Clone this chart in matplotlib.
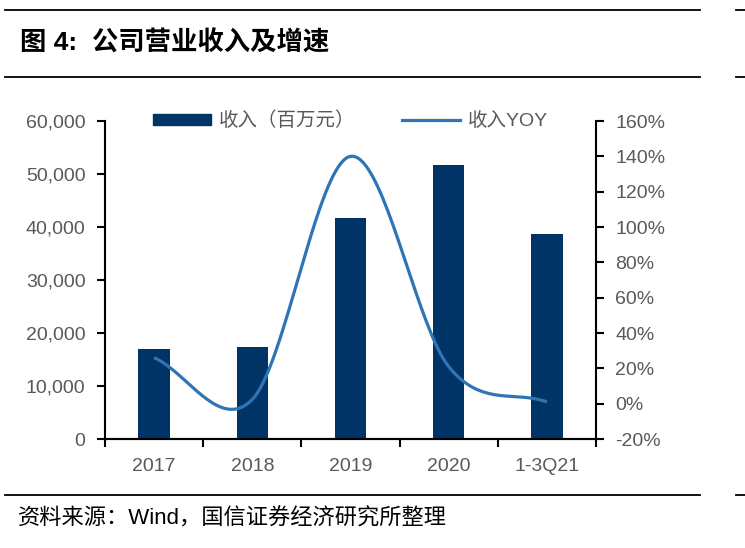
import numpy as np
import matplotlib
matplotlib.use("Agg")
import matplotlib.pyplot as plt
from matplotlib.lines import Line2D

plt.rcParams['font.family'] = ['Liberation Sans', 'Noto Sans CJK SC', 'DejaVu Sans']

categories = ["2017", "2018", "2019", "2020", "1-3Q21"]
revenue = [16900, 17300, 41700, 51700, 38700]        # 收入（百万元）
yoy = [26.0, 2.4, 140.0, 21.0, 1.0]                   # 收入YOY, %

C_BAR = "#003366"
C_LINE = "#2E75B6"
C_TXT = "#595959"


def smooth(x, y, n=40):
    # Catmull-Rom curve through the points, like Excel's smoothed line
    x = np.asarray(x, float)
    y = np.asarray(y, float)
    px = np.concatenate([[2 * x[0] - x[1]], x, [2 * x[-1] - x[-2]]])
    py = np.concatenate([[2 * y[0] - y[1]], y, [2 * y[-1] - y[-2]]])
    xs, ys = [], []
    t = np.linspace(0, 1, n)
    for i in range(1, len(px) - 2):
        for p, out in ((px, xs), (py, ys)):
            p0, p1, p2, p3 = p[i - 1], p[i], p[i + 1], p[i + 2]
            out.extend(0.5 * (2 * p1 + (-p0 + p2) * t
                              + (2 * p0 - 5 * p1 + 4 * p2 - p3) * t ** 2
                              + (-p0 + 3 * p1 - 3 * p2 + p3) * t ** 3))
    return np.array(xs), np.array(ys)


fig = plt.figure(figsize=(7.45, 5.48), dpi=100)
ax = fig.add_axes([105 / 745, 1 - 439 / 548, 491 / 745, 318 / 548])
ax2 = ax.twinx()

x = np.arange(len(categories))
ax.bar(x, revenue, width=0.32, color=C_BAR, zorder=2)
sx, sy = smooth(x, yoy)
ax2.plot(sx, sy, color=C_LINE, lw=2.3, solid_capstyle="butt", zorder=3)

ax.set_xlim(-0.5, len(categories) - 0.5)
ax.set_ylim(0, 60000)
ax.set_yticks(range(0, 60001, 10000))
ax.set_yticklabels(["{:,}".format(v) for v in range(0, 60001, 10000)])
ax2.set_ylim(-20, 160)
ax2.set_yticks(range(-20, 161, 20))
ax2.set_yticklabels(["%d%%" % v for v in range(-20, 161, 20)])

ax.set_xticks(x)
ax.set_xticklabels(categories)
ax.set_xticks(np.arange(-0.5, len(categories)), minor=True)
ax.tick_params(axis="x", which="major", length=0, pad=14)
ax.tick_params(axis="x", which="minor", length=6, width=1.5, direction="out")

for a in (ax, ax2):
    for s in a.spines.values():
        s.set_linewidth(1.5)
    a.spines["top"].set_visible(False)
    a.tick_params(axis="y", length=6, width=1.5, colors="black",
                  labelcolor=C_TXT, labelsize=14)
    a.tick_params(axis="x", labelcolor=C_TXT, labelsize=14)
ax.spines["right"].set_visible(False)
ax2.spines["left"].set_visible(False)
ax.tick_params(axis="y", pad=8)
ax2.tick_params(axis="y", pad=8)

handles = [plt.Rectangle((0, 0), 1, 1, color=C_BAR),
           Line2D([0], [0], color=C_LINE, lw=2.3)]
leg = ax.legend(handles, ["收入（百万元）", "收入YOY"], loc="center",
                bbox_to_anchor=(0.5, 1.0), ncol=2, frameon=False,
                fontsize=14, handlelength=3.0, handleheight=0.5,
                columnspacing=2.4, handletextpad=0.4)
for t in leg.get_texts():
    t.set_color(C_TXT)

# header / footer rules
for yy in (10, 77, 495):
    fig.add_artist(Line2D([5 / 745, 700 / 745], [1 - yy / 548] * 2,
                          color="black", lw=1.3))
    fig.add_artist(Line2D([736 / 745, 1.0], [1 - yy / 548] * 2,
                          color="black", lw=1.3))

fig.text(20 / 745, 1 - 43 / 548, "图 4:  公司营业收入及增速", fontsize=19,
         fontweight="bold", va="center", ha="left")
fig.text(18 / 745, 1 - 519 / 548, "资料来源：Wind，国信证券经济研究所整理",
         fontsize=16, va="center", ha="left")

fig.savefig("out.png", dpi=100)
